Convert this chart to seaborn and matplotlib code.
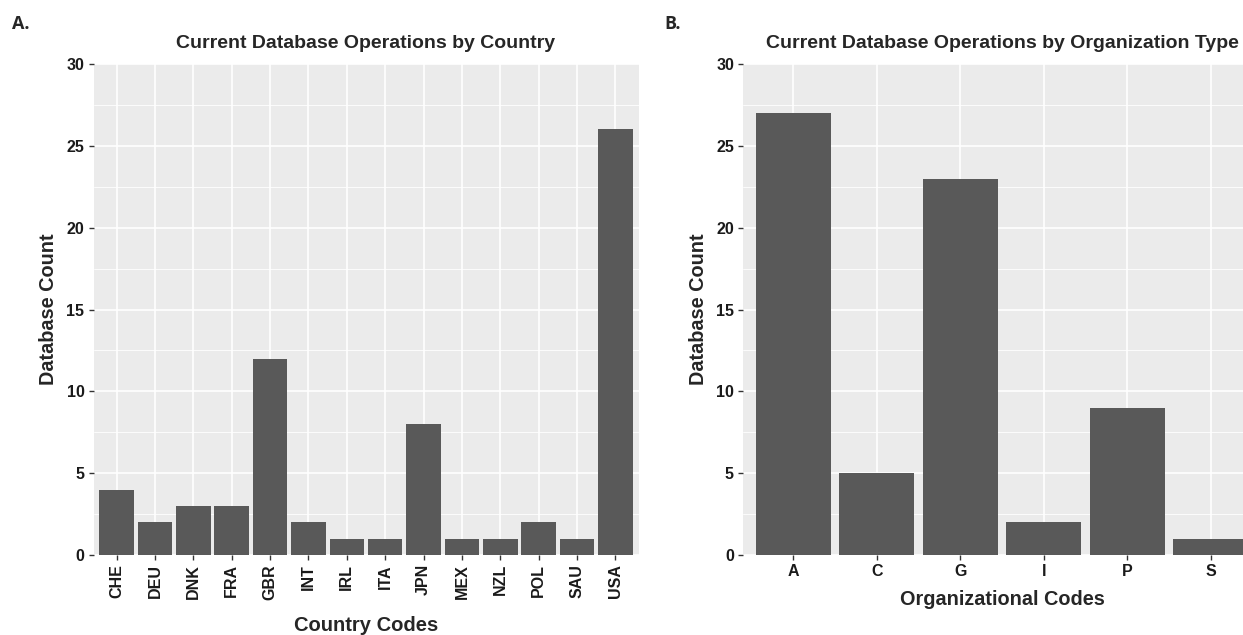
import matplotlib
matplotlib.use("Agg")
import matplotlib.pyplot as plt
import seaborn as sns
import pandas as pd
from matplotlib.ticker import MultipleLocator

countries = ["CHE", "DEU", "DNK", "FRA", "GBR", "INT", "IRL", "ITA", "JPN", "MEX", "NZL", "POL", "SAU", "USA"]
country_counts = [4, 2, 3, 3, 12, 2, 1, 1, 8, 1, 1, 2, 1, 26]
org_codes = ["A", "C", "G", "I", "P", "S"]
org_counts = [27, 5, 23, 2, 9, 1]
y_ticks = [0, 5, 10, 15, 20, 25, 30]

sns.set_theme(style="darkgrid")
plt.rcParams["font.family"] = ["Liberation Sans", "DejaVu Sans"]
plt.rcParams["font.weight"] = "bold"

W, H = 1243, 635
fig = plt.figure(figsize=(W / 100, H / 100), dpi=100)
fig.patch.set_facecolor("white")

def ax_rect(l, r, t, b):
    return [l / W, 1 - b / H, (r - l) / W, (b - t) / H]

axA = fig.add_axes(ax_rect(93.5, 638.5, 64, 555))
axB = fig.add_axes(ax_rect(743, 1261, 64, 555))

dfA = pd.DataFrame({"code": countries, "count": country_counts})
dfB = pd.DataFrame({"code": org_codes, "count": org_counts})

for ax, df, cats in [(axA, dfA, countries), (axB, dfB, org_codes)]:
    sns.barplot(data=df, x="code", y="count", order=cats, color="#595959",
                saturation=1, width=0.9, ax=ax, linewidth=0, zorder=3)
    ax.set_facecolor("#EBEBEB")
    ax.set_xlim(-0.6, len(cats) - 0.4)
    ax.set_ylim(0, 30)
    ax.set_yticks(y_ticks)
    ax.yaxis.set_minor_locator(MultipleLocator(2.5))
    ax.grid(which="major", color="white", linewidth=1.2, zorder=0)
    ax.grid(which="minor", axis="y", color="white", linewidth=0.6, zorder=0)
    ax.set_axisbelow(True)
    for s in ax.spines.values():
        s.set_visible(False)
    ax.tick_params(which="major", bottom=True, left=True, length=3.5, width=1.0,
                   color="#333333", labelsize=11.5, labelcolor="#1a1a1a", pad=3)
    ax.tick_params(which="minor", length=0)
    for lab in ax.get_xticklabels() + ax.get_yticklabels():
        lab.set_fontweight("bold")
    ax.set_ylabel("Database Count", fontsize=14.3, fontweight="bold", labelpad=6)

axA.tick_params(axis="x", labelrotation=90)
axA.set_xlabel("Country Codes", fontsize=14.5, fontweight="bold", labelpad=12)
axB.set_xlabel("Organizational Codes", fontsize=14.3, fontweight="bold", labelpad=8)

fig.text((93.5 + 638.5) / 2 / W, 1 - 43 / H, "Current Database Operations by Country",
         ha="center", va="center", fontsize=14, fontweight="bold")
fig.text((743 + 1261) / 2 / W, 1 - 43 / H, "Current Database Operations by Organization Type",
         ha="center", va="center", fontsize=14, fontweight="bold")

fig.text(12 / W, 1 - 24 / H, "A.", ha="left", va="center", fontsize=13,
         fontweight="bold", family=["Open Sans", "DejaVu Sans"])
fig.text(664 / W, 1 - 24 / H, "B.", ha="left", va="center", fontsize=13,
         fontweight="bold", family=["Open Sans", "DejaVu Sans"])

fig.savefig("out.png", dpi=100, facecolor="white")
